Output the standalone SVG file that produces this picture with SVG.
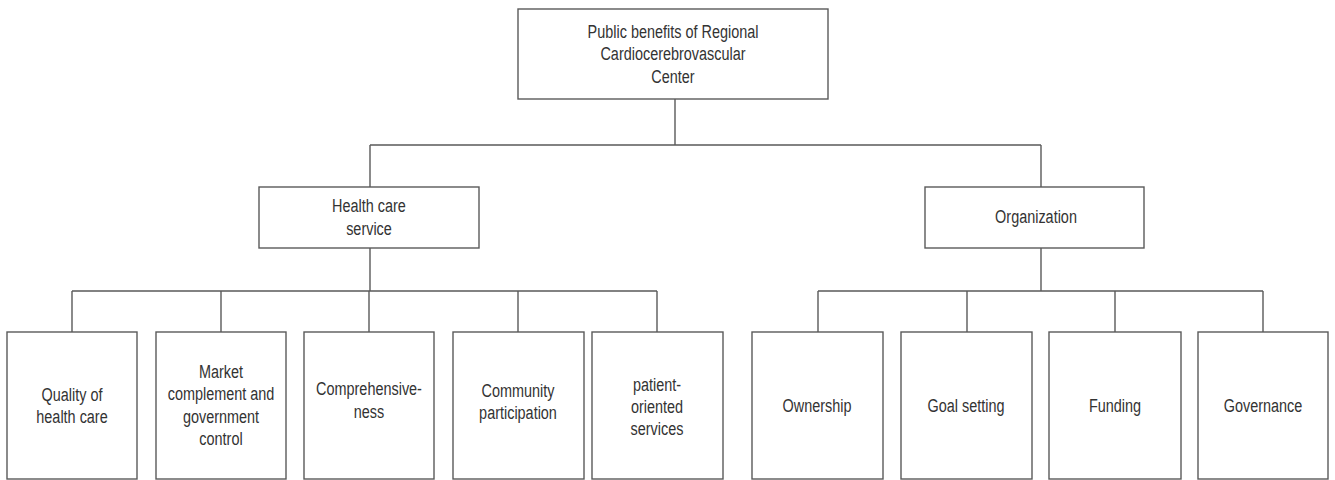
<svg xmlns="http://www.w3.org/2000/svg" width="1335" height="480" viewBox="0 0 1335 480">
<style>
.box{fill:#fff;stroke:#5a5a5a;stroke-width:1.4}
.ln{fill:none;stroke:#5a5a5a;stroke-width:1.4}
text{font-family:"Liberation Sans",Arial,sans-serif;font-size:19px;fill:#333;text-anchor:middle}
</style>
<rect width="1335" height="480" fill="#fff"/>
<g id="connectors">
<path class="ln" d="M675 99V145M370 145H1041M370 145V187M1041 145V187"/>
<path class="ln" d="M370 248V291M72 291H657M72 291V332M221 291V332M369 291V332M518 291V332M657 291V332"/>
<path class="ln" d="M1041 248V291M818 291H1263M818 291V332M967 291V332M1115 291V332M1263 291V332"/>
</g>
<g id="root"><rect class="box" x="518" y="9" width="310" height="90"/>
<g transform="translate(673 0) scale(0.76 1)"><text x="0" y="38">Public benefits of Regional</text><text x="0" y="60.5">Cardiocerebrovascular</text><text x="0" y="83">Center</text></g></g>
<g id="health"><rect class="box" x="259" y="187" width="220" height="61"/>
<g transform="translate(369 0) scale(0.76 1)"><text x="0" y="212">Health care</text><text x="0" y="235">service</text></g></g>
<g id="org"><rect class="box" x="925" y="187" width="219" height="61"/>
<g transform="translate(1036 0) scale(0.76 1)"><text x="0" y="223">Organization</text></g></g>
<g id="quality"><rect class="box" x="7" y="332" width="130" height="147"/>
<g transform="translate(72 0) scale(0.76 1)"><text x="0" y="401">Quality of</text><text x="0" y="423">health care</text></g></g>
<g id="market"><rect class="box" x="156" y="332" width="130" height="147"/>
<g transform="translate(221 0) scale(0.76 1)"><text x="0" y="378">Market</text><text x="0" y="400">complement and</text><text x="0" y="423">government</text><text x="0" y="445">control</text></g></g>
<g id="comprehensive"><rect class="box" x="304" y="332" width="130" height="147"/>
<g transform="translate(369 0) scale(0.76 1)"><text x="0" y="395">Comprehensive-</text><text x="0" y="418">ness</text></g></g>
<g id="community"><rect class="box" x="453" y="332" width="131" height="147"/>
<g transform="translate(518 0) scale(0.76 1)"><text x="0" y="397">Community</text><text x="0" y="419">participation</text></g></g>
<g id="patient"><rect class="box" x="592" y="332" width="131" height="147"/>
<g transform="translate(657 0) scale(0.76 1)"><text x="0" y="391">patient-</text><text x="0" y="413">oriented</text><text x="0" y="435">services</text></g></g>
<g id="ownership"><rect class="box" x="752" y="332" width="131" height="147"/>
<g transform="translate(817 0) scale(0.76 1)"><text x="0" y="412">Ownership</text></g></g>
<g id="goal"><rect class="box" x="901" y="332" width="131" height="147"/>
<g transform="translate(966 0) scale(0.76 1)"><text x="0" y="412">Goal setting</text></g></g>
<g id="funding"><rect class="box" x="1049" y="332" width="132" height="147"/>
<g transform="translate(1115 0) scale(0.76 1)"><text x="0" y="412">Funding</text></g></g>
<g id="governance"><rect class="box" x="1198" y="332" width="130" height="147"/>
<g transform="translate(1263 0) scale(0.76 1)"><text x="0" y="412">Governance</text></g></g>
</svg>
